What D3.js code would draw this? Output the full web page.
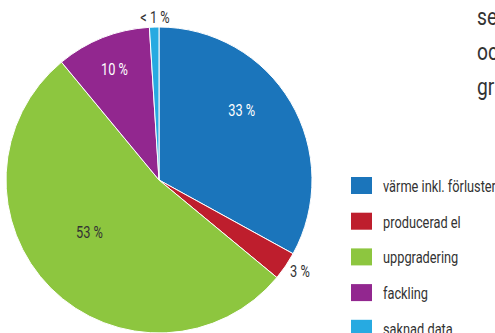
<!DOCTYPE html>
<html lang="sv">
<head>
<meta charset="utf-8">
<title>Fördelning</title>
<script src="https://cdn.jsdelivr.net/npm/d3@7/dist/d3.min.js"></script>
<style>
  html, body { margin: 0; padding: 0; background: #fff; overflow: hidden; }
  svg text { font-family: Roboto, "Liberation Sans", sans-serif; }
</style>
</head>
<body>
<script>
  // data
  var categories = ["värme inkl. förluster", "producerad el", "uppgradering", "fackling", "saknad data"];
  var shares = [33, 3, 53, 10, 1];
  var sliceLabels = ["33 %", "3 %", "53 %", "10 %", "< 1 %"];
  var bodyLines = ["se", "oc", "gr"];

  var colors = ["#1b75bb", "#be1e2d", "#8dc63f", "#92278f", "#27aae1"];
  var labelColors = ["#fff", "#333", "#333", "#fff", "#333"];
  // label placement: [radius, angle in degrees clockwise from top]
  var labelPolar = [[108, 50], [168, 123], [87, 233], [119, 338], [163, 358.6]];
  var narrow = 0.8; // the original uses a condensed face

  var W = 495, H = 333;
  var cx = 159, cy = 180, R = 153;

  var svg = d3.select("body").append("svg")
      .attr("width", W)
      .attr("height", H);

  function place(x, y) {
    return "translate(" + x + "," + y + ") scale(" + narrow + ",1)";
  }

  var pie = d3.pie().sort(null).value(function(d) { return d; });
  var arc = d3.arc().innerRadius(0).outerRadius(R);

  var g = svg.append("g").attr("transform", "translate(" + cx + "," + cy + ")");

  g.selectAll("path.slice")
    .data(pie(shares))
    .enter().append("path")
    .attr("class", "slice")
    .attr("d", arc)
    .attr("fill", function(d, i) { return colors[i]; })
    .attr("stroke", "#fff")
    .attr("stroke-width", 1);

  g.selectAll("text.lbl")
    .data(sliceLabels)
    .enter().append("text")
    .attr("class", "lbl")
    .attr("transform", function(d, i) {
      var a = labelPolar[i][1] * Math.PI / 180, r = labelPolar[i][0];
      return place(r * Math.sin(a), -r * Math.cos(a));
    })
    .attr("dy", "0.36em")
    .attr("text-anchor", "middle")
    .attr("font-size", 16)
    .attr("fill", function(d, i) { return labelColors[i]; })
    .text(function(d) { return d; });

  // legend
  var leg = svg.append("g").attr("transform", "translate(351,177)");
  var rows = leg.selectAll("g.row")
    .data(categories)
    .enter().append("g")
    .attr("class", "row")
    .attr("transform", function(d, i) { return "translate(0," + (i * 35.7) + ")"; });

  rows.append("rect")
    .attr("width", 21)
    .attr("height", 17)
    .attr("fill", function(d, i) { return colors[i]; });

  rows.append("text")
    .attr("transform", place(32, 15))
    .attr("font-size", 16)
    .attr("fill", "#333")
    .text(function(d) { return d; });

  // body text, cut at the right edge in the original
  svg.selectAll("text.body")
    .data(bodyLines)
    .enter().append("text")
    .attr("class", "body")
    .attr("transform", function(d, i) { return place(477, 25 + i * 35); })
    .attr("font-size", 24)
    .attr("fill", "#333")
    .text(function(d) { return d; });
</script>
</body>
</html>
